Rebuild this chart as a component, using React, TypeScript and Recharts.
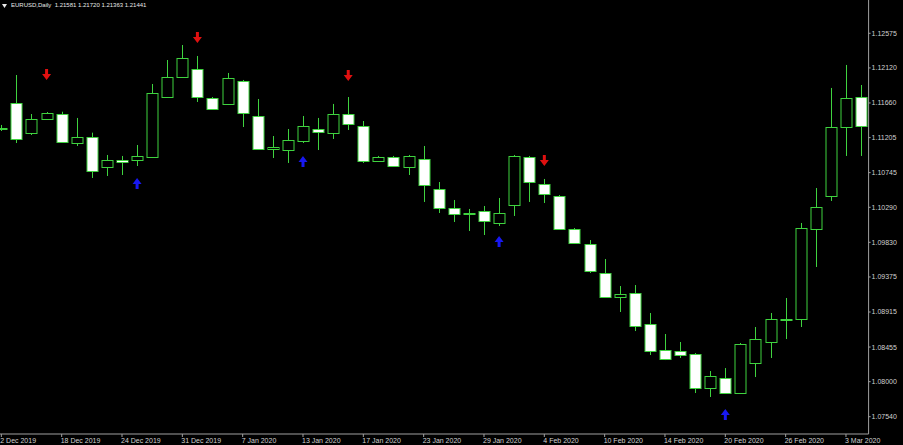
import { ComposedChart, Bar, Line, XAxis, YAxis } from "recharts";

const dates = [
  "12 Dec 2019", "13 Dec 2019", "16 Dec 2019", "17 Dec 2019", "18 Dec 2019", "19 Dec 2019", "20 Dec 2019", "23 Dec 2019", "24 Dec 2019", "26 Dec 2019",
  "27 Dec 2019", "30 Dec 2019", "31 Dec 2019", "2 Jan 2020", "3 Jan 2020", "6 Jan 2020", "7 Jan 2020", "8 Jan 2020", "9 Jan 2020", "10 Jan 2020",
  "13 Jan 2020", "14 Jan 2020", "15 Jan 2020", "16 Jan 2020", "17 Jan 2020", "20 Jan 2020", "21 Jan 2020", "22 Jan 2020", "23 Jan 2020", "24 Jan 2020",
  "27 Jan 2020", "28 Jan 2020", "29 Jan 2020", "30 Jan 2020", "31 Jan 2020", "3 Feb 2020", "4 Feb 2020", "5 Feb 2020", "6 Feb 2020", "7 Feb 2020",
  "10 Feb 2020", "11 Feb 2020", "12 Feb 2020", "13 Feb 2020", "14 Feb 2020", "17 Feb 2020", "18 Feb 2020", "19 Feb 2020", "20 Feb 2020", "21 Feb 2020",
  "24 Feb 2020", "25 Feb 2020", "26 Feb 2020", "27 Feb 2020", "28 Feb 2020", "2 Mar 2020", "3 Mar 2020", "4 Mar 2020",
];

const opens = [
  1.11331, 1.11664, 1.11266, 1.11453, 1.11515, 1.1113, 1.11217, 1.10819, 1.10911, 1.10911,
  1.1095, 1.11738, 1.12001, 1.12106, 1.11725, 1.11647, 1.11949, 1.11489, 1.11056, 1.11042,
  1.11161, 1.11318, 1.11266, 1.11515, 1.11358, 1.10898, 1.1095, 1.10819, 1.10924, 1.1053,
  1.10281, 1.10215, 1.10241, 1.10084, 1.1032, 1.1095, 1.10596, 1.10438, 1.10005, 1.09808,
  1.09427, 1.09112, 1.09164, 1.08757, 1.08416, 1.08403, 1.08363, 1.07917, 1.08048, 1.07851,
  1.08245, 1.08521, 1.0881, 1.08823, 1.10005, 1.10438, 1.11344, 1.11738,
];

const highs = [
  1.11371, 1.12027, 1.11515, 1.11541, 1.11545, 1.11463, 1.1127, 1.10977, 1.10964, 1.11108,
  1.11909, 1.12224, 1.12421, 1.12277, 1.11738, 1.12054, 1.11962, 1.11712, 1.11226, 1.11318,
  1.11489, 1.11463, 1.11647, 1.11738, 1.11423, 1.10964, 1.10964, 1.10977, 1.11095, 1.10622,
  1.10386, 1.10268, 1.10307, 1.10412, 1.10977, 1.10964, 1.10662, 1.10451, 1.10018, 1.0986,
  1.09611, 1.09256, 1.09269, 1.08902, 1.08626, 1.08521, 1.08376, 1.0814, 1.08179, 1.08508,
  1.08718, 1.08902, 1.09099, 1.10084, 1.10543, 1.11857, 1.12159, 1.11896,
];

const lows = [
  1.11292, 1.11134, 1.11239, 1.1145, 1.11134, 1.11095, 1.10675, 1.10701, 1.10714, 1.10832,
  1.10937, 1.11725, 1.11988, 1.11673, 1.11568, 1.11633, 1.11344, 1.11042, 1.10937, 1.10872,
  1.11134, 1.11042, 1.11187, 1.11305, 1.10872, 1.10885, 1.10819, 1.10714, 1.1036, 1.10215,
  1.10097, 1.09979, 1.09926, 1.10044, 1.10176, 1.1036, 1.10346, 1.09992, 1.09808, 1.09427,
  1.09099, 1.08915, 1.08665, 1.0835, 1.08284, 1.08311, 1.07851, 1.07799, 1.07838, 1.07838,
  1.08061, 1.08311, 1.0856, 1.08718, 1.09506, 1.10373, 1.10964, 1.10964,
];

const closes = [
  1.11325, 1.11187, 1.1145, 1.11532, 1.11147, 1.11217, 1.10771, 1.10911, 1.10881, 1.10968,
  1.11791, 1.12001, 1.12251, 1.11738, 1.11581, 1.11988, 1.11528, 1.11056, 1.11082, 1.11174,
  1.11358, 1.11279, 1.11515, 1.11384, 1.10898, 1.1095, 1.10832, 1.10964, 1.10583, 1.10281,
  1.10202, 1.10208, 1.1011, 1.10215, 1.10964, 1.10622, 1.10465, 1.10005, 1.09821, 1.09453,
  1.09112, 1.09151, 1.08731, 1.08403, 1.08298, 1.0835, 1.07917, 1.08074, 1.07851, 1.08495,
  1.0856, 1.08823, 1.08823, 1.10018, 1.10294, 1.11344, 1.11725, 1.11358,
];

// fractal arrows: index -> price where the arrow sits
const fractalDown: Record<number, number> = { 3: 1.12027, 13: 1.12513, 23: 1.12014, 36: 1.10898 };
const fractalUp: Record<number, number> = { 9: 1.10609, 20: 1.10898, 33: 1.09848, 48: 1.07575 };

const priceTicks = [1.12575, 1.1212, 1.1166, 1.11205, 1.10745, 1.1029, 1.0983, 1.09375, 1.08915, 1.08455, 1.08, 1.0754];

const data = dates.map((date, i) => ({
  date,
  open: opens[i],
  high: highs[i],
  low: lows[i],
  close: closes[i],
  down: fractalDown[i] ?? null,
  up: fractalUp[i] ?? null,
}));

const GREEN = "#3fd33f";
const AXIS = "#a0a0a0";
const TEXT = "#d0d0d0";
const FONT = "'Liberation Sans', Arial, sans-serif";

const Candle = (props: any) => {
  const { x, y, width, height, payload } = props;
  if (!payload) return <g />;
  const { open, close, high, low } = payload;
  const top = Math.min(y, y + height);
  const h = Math.abs(height);
  const ratio = h / (high - low || 1);
  const yOf = (v: number) => top + (high - v) * ratio;
  const cx = Math.round(x + width / 2) + 0.5;
  const bTop = Math.round(yOf(Math.max(open, close))) + 0.5;
  const bBot = Math.round(yOf(Math.min(open, close))) + 0.5;
  const bull = close > open;
  return (
    <g>
      <line x1={cx} x2={cx} y1={top} y2={top + h} stroke={GREEN} strokeWidth={1} />
      <rect
        x={cx - 5.5}
        y={bTop}
        width={11}
        height={Math.max(1, bBot - bTop)}
        fill={bull ? "#000000" : "#ffffff"}
        stroke={GREEN}
        strokeWidth={1}
      />
    </g>
  );
};

const DownArrow = (props: any) => {
  const { cx, cy, index } = props;
  if (cy == null || isNaN(cy)) return <g key={`d${index}`} />;
  return (
    <path
      key={`d${index}`}
      d={`M${cx - 1.5},${cy - 6} h3 v5 h3 l-4.5,6 l-4.5,-6 h3 z`}
      fill="#e01010"
    />
  );
};

const UpArrow = (props: any) => {
  const { cx, cy, index } = props;
  if (cy == null || isNaN(cy)) return <g key={`u${index}`} />;
  return (
    <path
      key={`u${index}`}
      d={`M${cx - 1.5},${cy + 6} h3 v-5 h3 l-4.5,-6 l-4.5,6 h3 z`}
      fill="#1818f0"
    />
  );
};

const DateTick = (props: any) => {
  const { x, payload, index } = props;
  const tx = index === 0 ? x - 5 : x - 1;
  return (
    <text x={tx} y={443} fill={TEXT} fontSize={7} fontFamily={FONT} textAnchor="start">
      {payload.value}
    </text>
  );
};

export default function App() {
  return (
    <div style={{ position: "absolute", left: 0, top: 0, width: 903, height: 445, background: "#000", overflow: "hidden" }}>
      <ComposedChart
        width={903}
        height={445}
        data={data}
        margin={{ top: 0, right: 0, bottom: 0, left: -6.2 }}
        barCategoryGap={0}
      >
        <XAxis
          dataKey="date"
          height={11}
          interval={3}
          tickSize={3}
          axisLine={{ stroke: AXIS }}
          tickLine={{ stroke: AXIS }}
          tick={<DateTick />}
        />
        <YAxis
          orientation="right"
          width={34.4}
          domain={[1.07313, 1.13012]}
          allowDataOverflow
          ticks={priceTicks}
          tickFormatter={(v: number) => v.toFixed(5)}
          tickSize={2}
          tickMargin={1}
          axisLine={{ stroke: AXIS }}
          tickLine={{ stroke: AXIS }}
          tick={{ fill: TEXT, fontSize: 7, fontFamily: FONT }}
        />
        <Bar
          dataKey={(d: any) => [d.low, d.high]}
          shape={<Candle />}
          isAnimationActive={false}
        />
        <Line dataKey="down" stroke="none" dot={DownArrow} activeDot={false} isAnimationActive={false} />
        <Line dataKey="up" stroke="none" dot={UpArrow} activeDot={false} isAnimationActive={false} />
      </ComposedChart>
      <div
        style={{
          position: "absolute",
          left: 2,
          top: 1,
          color: "#e8e8e8",
          fontFamily: FONT,
          fontSize: 6,
          lineHeight: "9px",
          whiteSpace: "pre",
          display: "flex",
          alignItems: "center",
        }}
      >
        <svg width={6} height={9} style={{ marginRight: 3 }}>
          <polygon points="0,3 5,3 2.5,7" fill="#e8e8e8" />
        </svg>
        <span>EURUSD,Daily  1.21581 1.21720 1.21363 1.21441</span>
      </div>
    </div>
  );
}
